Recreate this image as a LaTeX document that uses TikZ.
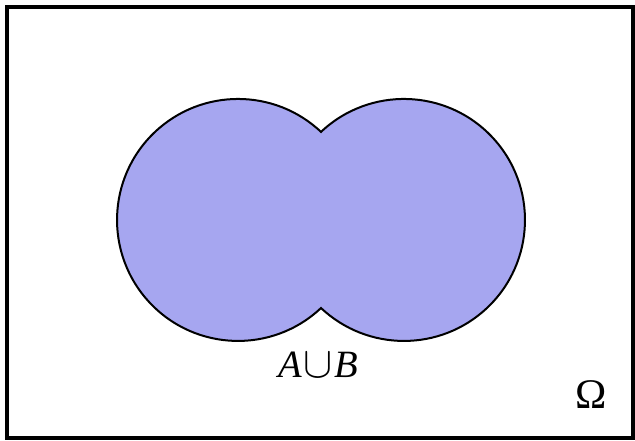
\documentclass[tikz,border=0pt]{standalone}
\usepackage{fontspec}
\setmainfont{Liberation Serif}
\definecolor{unionblue}{RGB}{166,166,240}
\usetikzlibrary{positioning}
\tikzset{label text/.style={font=\fontsize{22}{26}\selectfont, inner sep=0pt, anchor=base}}

\begin{document}
\begin{tikzpicture}[x=0.02cm,y=-0.02cm]
  \useasboundingbox (0,0) rectangle (635,440);
  % sample space
  \draw[line width=0.08cm] (7,7) rectangle (633,438);
  % union of the two sets
  \draw[line width=0.04cm,fill=unionblue] (321,308)
    arc[start angle=46.7,end angle=313.3,radius=121]
    arc[start angle=226.7,end angle=493.3,radius=121] -- cycle;
  \node[label text] (union) at (318,377) {\textit{A}\kern1pt{\fontsize{30}{30}\selectfont$\cup$}\kern1pt\textit{B}};
  \node[label text] (omega) at (591,408) {\fontsize{24}{26}\selectfont Ω};
\end{tikzpicture}
\end{document}
